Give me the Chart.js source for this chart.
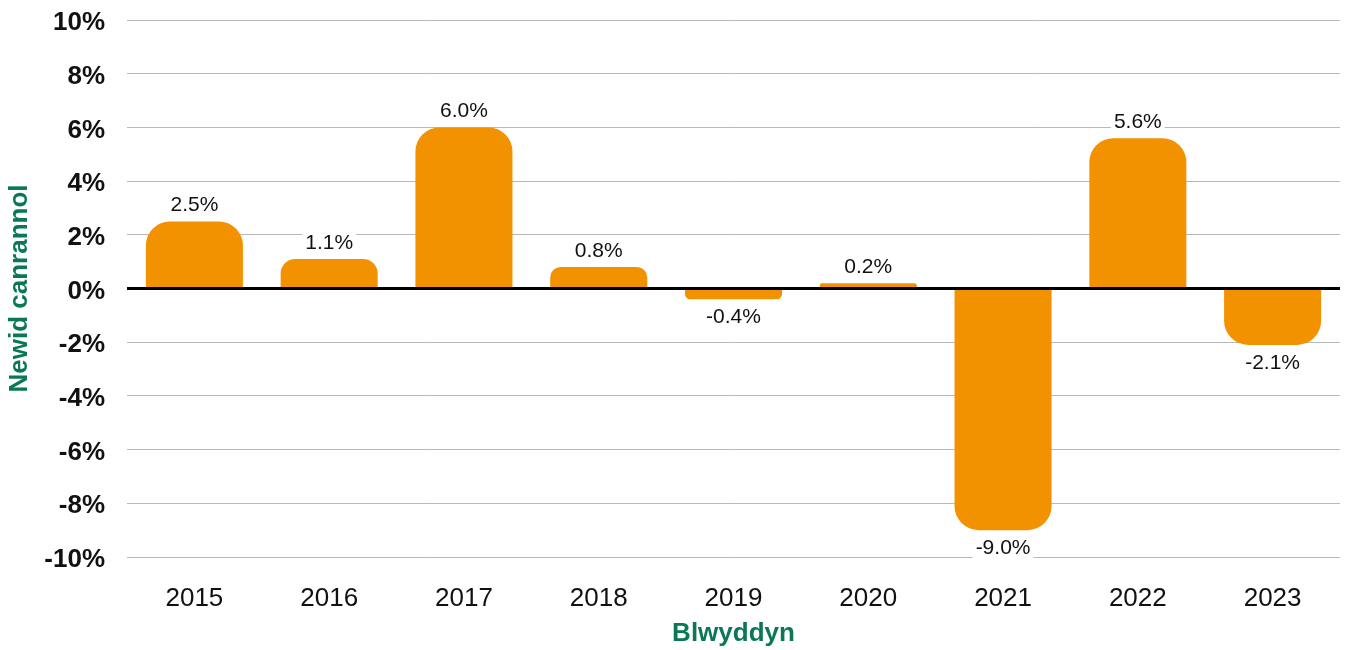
<!DOCTYPE html>
<html>
<head>
<meta charset="utf-8">
<script src="https://cdn.jsdelivr.net/npm/chart.js@4.4.0/dist/chart.umd.min.js"></script>
<style>
  html, body { margin: 0; padding: 0; background: #fff; }
  #wrap { width: 1347px; height: 650px; position: relative; }
</style>
</head>
<body>
<div id="wrap"><canvas id="chart"></canvas></div>
<script>
// Year-on-year percentage change
const years = ['2015', '2016', '2017', '2018', '2019', '2020', '2021', '2022', '2023'];
const changes = [2.5, 1.1, 6.0, 0.8, -0.4, 0.2, -9.0, 5.6, -2.1];
const yTicks = [-10, -8, -6, -4, -2, 0, 2, 4, 6, 8, 10];

const GREEN = '#0a7857';
const ORANGE = '#f39200';
const FONT = '"Liberation Sans", Arial, Helvetica, sans-serif';

// Value labels with a white box behind them, above/below each bar
const valueLabels = {
  id: 'valueLabels',
  afterDatasetsDraw(chart) {
    const ctx = chart.ctx;
    const meta = chart.getDatasetMeta(0);
    ctx.save();
    ctx.font = '21px ' + FONT;
    ctx.textAlign = 'center';
    ctx.textBaseline = 'middle';
    meta.data.forEach((bar, i) => {
      const v = changes[i];
      const txt = v.toFixed(1) + '%';
      const y = v >= 0 ? bar.y - 17 : bar.y + 17;
      const w = ctx.measureText(txt).width + 6;
      ctx.fillStyle = '#fff';
      ctx.fillRect(bar.x - w / 2, y - 11, w, 22);
      ctx.fillStyle = '#111';
      ctx.fillText(txt, bar.x, y + 1);
    });
    ctx.restore();
  }
};

// Heavy zero line drawn on top of the bars
const zeroLine = {
  id: 'zeroLine',
  afterDatasetsDraw(chart) {
    const { ctx, chartArea, scales } = chart;
    const y0 = scales.y.getPixelForValue(0);
    ctx.save();
    ctx.strokeStyle = '#000';
    ctx.lineWidth = 3;
    ctx.beginPath();
    ctx.moveTo(chartArea.left, y0);
    ctx.lineTo(chartArea.right, y0);
    ctx.stroke();
    ctx.restore();
  }
};

new Chart(document.getElementById('chart'), {
  type: 'bar',
  data: {
    labels: years,
    datasets: [{
      data: changes,
      backgroundColor: ORANGE,
      borderWidth: 0,
      borderRadius: 24,
      borderSkipped: 'start',
      barPercentage: 0.72,
      categoryPercentage: 1,
    }],
  },
  options: {
    responsive: true,
    maintainAspectRatio: false,
    animation: false,
    layout: { padding: { top: 20, right: 7, left: 0, bottom: 0 } },
    plugins: {
      legend: { display: false },
      tooltip: { enabled: false },
    },
    scales: {
      x: {
        grid: { display: false },
        border: { display: false },
        ticks: { color: '#111', font: { family: FONT, size: 26 }, padding: 18 },
        title: {
          display: true,
          text: 'Blwyddyn',
          color: GREEN,
          font: { family: FONT, size: 26, weight: 'bold' },
          padding: { top: 0, bottom: 1 },
        },
        afterFit: s => { s.height = 93; },
      },
      y: {
        min: -10,
        max: 10,
        afterBuildTicks: s => { s.ticks = yTicks.map(v => ({ value: v })); },
        grid: {
          color: '#b8b8b8',
          lineWidth: 1,
          drawTicks: false,
        },
        border: { display: false },
        ticks: {
          color: '#111',
          font: { family: FONT, size: 26, weight: 'bold' },
          padding: 22,
          labelOffset: 3,
          callback: v => v + '%',
        },
        title: {
          display: true,
          text: 'Newid canrannol',
          color: GREEN,
          font: { family: FONT, size: 26, weight: 'bold' },
          padding: { top: 4, bottom: 0 },
        },
        afterFit: s => {
          s.width = 127;
          s.paddingTop = 0;
          s.paddingBottom = 0;
        },
      },
    },
  },
  plugins: [valueLabels, zeroLine],
});
</script>
</body>
</html>
